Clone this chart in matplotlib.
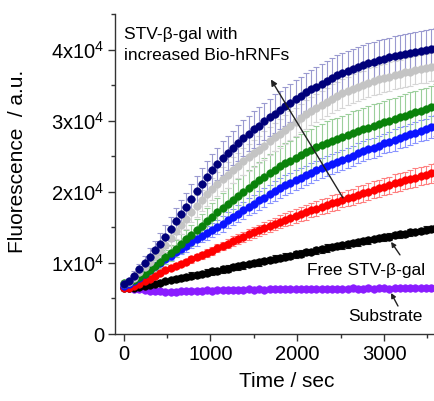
import matplotlib
matplotlib.use("Agg")
from matplotlib import pyplot as plt
from matplotlib.ticker import MultipleLocator, FixedLocator

plt.rcParams['font.family'] = ['Liberation Sans', 'DejaVu Sans']
plt.rcParams['mathtext.fontset'] = 'custom'
plt.rcParams['mathtext.rm'] = 'Liberation Sans'
plt.rcParams['mathtext.default'] = 'regular'

# time axis, one reading every 60 s
time = [0, 60, 120, 180, 240, 300, 360, 420, 480, 540,
        600, 660, 720, 780, 840, 900, 960, 1020, 1080, 1140,
        1200, 1260, 1320, 1380, 1440, 1500, 1560, 1620, 1680, 1740,
        1800, 1860, 1920, 1980, 2040, 2100, 2160, 2220, 2280, 2340,
        2400, 2460, 2520, 2580, 2640, 2700, 2760, 2820, 2880, 2940,
        3000, 3060, 3120, 3180, 3240, 3300, 3360, 3420, 3480, 3540,
        3600]

# STV-beta-gal with increasing Bio-hRNFs (highest first)
navy = [7000, 7400, 8200, 9100, 10000, 10900, 11800, 12700, 13700, 14800,
        15900, 16900, 17900, 19000, 20100, 21100, 22100, 23000, 23900, 24800,
        25500, 26200, 26900, 27600, 28200, 28800, 29300, 29900, 30500, 31000,
        31500, 32000, 32500, 33000, 33500, 34000, 34400, 34800, 35200, 35600,
        36000, 36400, 36700, 37000, 37300, 37600, 37800, 38100, 38300, 38500,
        38700, 38900, 39100, 39200, 39400, 39500, 39700, 39800, 39900, 40050,
        40200]
navy_err = [300, 400, 600, 800, 1000, 1200, 1300, 1500, 1600, 1700,
            1800, 1900, 2000, 2100, 2100, 2200, 2200, 2300, 2300, 2400,
            2400, 2400, 2500, 2500, 2500, 2600, 2600, 2600, 2600, 2700,
            2700, 2700, 2700, 2700, 2700, 2700, 2700, 2800, 2800, 2800,
            2800, 2800, 2800, 2800, 2800, 2800, 2800, 2800, 2800, 2800,
            2800, 2800, 2800, 2800, 2800, 2800, 2800, 2800, 2800, 2800,
            2800]

gray = [7000, 7300, 7950, 8700, 9450, 10200, 10950, 11700, 12550, 13500,
        14500, 15350, 16200, 17100, 18000, 18800, 19650, 20400, 21100, 21850,
        22400, 23050, 23700, 24300, 24850, 25400, 25900, 26500, 27150, 27700,
        28200, 28750, 29300, 29850, 30350, 30900, 31350, 31800, 32200, 32650,
        33100, 33500, 33850, 34150, 34500, 34800, 35000, 35350, 35550, 35800,
        36000, 36200, 36450, 36550, 36800, 36900, 37100, 37250, 37350, 37550,
        37700]
gray_err = [200, 300, 400, 500, 600, 700, 800, 900, 1000, 1100,
            1200, 1300, 1400, 1400, 1500, 1500, 1600, 1600, 1700, 1700,
            1800, 1800, 1800, 1900, 1900, 1900, 1900, 2000, 2000, 2000,
            2000, 2000, 2000, 2000, 2000, 2000, 2000, 2000, 2000, 2000,
            2000, 2000, 2000, 2000, 2000, 2000, 2000, 2000, 2000, 2000,
            2000, 2000, 2000, 2000, 2000, 2000, 2000, 2000, 2000, 2000,
            2000]

green = [7200, 7300, 7600, 8000, 8500, 9000, 9600, 10200, 10800, 11400,
         12000, 12700, 13300, 13900, 14600, 15200, 15900, 16500, 17100, 17700,
         18300, 18900, 19400, 20000, 20600, 21100, 21600, 22100, 22600, 23100,
         23600, 24000, 24400, 24800, 25200, 25600, 25900, 26300, 26600, 26900,
         27200, 27400, 27700, 28000, 28300, 28500, 28800, 29000, 29300, 29500,
         29800, 30000, 30200, 30500, 30700, 31000, 31200, 31400, 31600, 31900,
         32100]
green_err = [200, 300, 400, 500, 600, 700, 800, 900, 1000, 1100,
             1200, 1300, 1400, 1500, 1600, 1700, 1800, 1900, 2000, 2100,
             2200, 2300, 2400, 2400, 2500, 2500, 2600, 2600, 2700, 2700,
             2800, 2800, 2800, 2900, 2900, 2900, 2900, 3000, 3000, 3000,
             3000, 3000, 3000, 3000, 3000, 3000, 3000, 3000, 3000, 3000,
             3000, 3000, 3000, 3000, 3000, 3000, 3000, 3000, 3000, 3000,
             3000]

blue = [6800, 7000, 7400, 7900, 8500, 9000, 9500, 10000, 10500, 11000,
        11500, 12000, 12400, 12900, 13300, 13800, 14200, 14600, 15100, 15500,
        16000, 16500, 16900, 17400, 17900, 18300, 18800, 19200, 19700, 20100,
        20500, 20900, 21300, 21600, 22000, 22300, 22700, 23000, 23300, 23600,
        23900, 24200, 24500, 24800, 25100, 25400, 25700, 26000, 26200, 26500,
        26800, 27000, 27300, 27600, 27800, 28100, 28300, 28600, 28800, 29100,
        29300]
blue_err = [200, 200, 300, 300, 400, 400, 500, 500, 600, 600,
            700, 700, 800, 800, 900, 900, 1000, 1000, 1000, 1100,
            1100, 1100, 1200, 1200, 1200, 1300, 1300, 1300, 1300, 1400,
            1400, 1400, 1400, 1400, 1400, 1400, 1400, 1400, 1400, 1400,
            1400, 1400, 1400, 1400, 1400, 1400, 1400, 1400, 1400, 1400,
            1400, 1400, 1500, 1500, 1500, 1500, 1500, 1500, 1500, 1500,
            1500]

red = [6500, 6500, 6700, 7000, 7400, 7800, 8200, 8600, 9000, 9300,
       9600, 9900, 10200, 10500, 10800, 11100, 11400, 11700, 12100, 12400,
       12700, 13100, 13400, 13700, 14000, 14300, 14600, 14900, 15200, 15500,
       15800, 16100, 16300, 16600, 16900, 17100, 17400, 17600, 17900, 18100,
       18400, 18600, 18900, 19100, 19300, 19600, 19800, 20000, 20300, 20500,
       20700, 20900, 21200, 21400, 21600, 21800, 22000, 22200, 22400, 22600,
       22800]
red_err = [200, 200, 200, 250, 250, 250, 300, 300, 300, 350,
           350, 400, 400, 450, 450, 500, 500, 550, 600, 600,
           650, 650, 700, 700, 750, 750, 800, 800, 850, 850,
           900, 900, 950, 950, 1000, 1000, 1000, 1050, 1050, 1050,
           1100, 1100, 1100, 1150, 1150, 1150, 1200, 1200, 1200, 1200,
           1200, 1250, 1250, 1250, 1250, 1250, 1300, 1300, 1300, 1300,
           1300]

# free STV-beta-gal
black = [6500, 6500, 6500, 6600, 6700, 6900, 7000, 7200, 7400, 7600,
         7700, 7900, 8000, 8200, 8300, 8500, 8600, 8800, 8900, 9100,
         9200, 9400, 9500, 9700, 9800, 10000, 10100, 10300, 10400, 10600,
         10700, 10900, 11000, 11200, 11300, 11500, 11600, 11800, 11900, 12100,
         12200, 12400, 12500, 12600, 12800, 12900, 13100, 13200, 13300, 13500,
         13600, 13700, 13900, 14000, 14100, 14300, 14400, 14500, 14700, 14800,
         14900]
black_err = [200, 200, 250, 250, 300, 300, 300, 350, 350, 350,
             400, 450, 400, 500, 450, 400, 500, 450, 400, 450,
             500, 400, 450, 500, 400, 450, 500, 450, 400, 500,
             450, 500, 400, 450, 500, 450, 400, 500, 450, 500,
             400, 450, 500, 450, 400, 500, 450, 500, 400, 450,
             500, 450, 400, 500, 450, 500, 400, 450, 500, 450,
             500]

# substrate only
purple = [6600, 6500, 6400, 6300, 6200, 6100, 6050, 6000, 5950, 5950,
          5950, 6000, 6000, 6050, 6100, 6100, 6150, 6100, 6200, 6150,
          6200, 6250, 6200, 6250, 6300, 6250, 6300, 6250, 6300, 6350,
          6300, 6300, 6350, 6300, 6350, 6400, 6350, 6350, 6400, 6350,
          6400, 6400, 6350, 6400, 6450, 6400, 6400, 6450, 6400, 6450,
          6450, 6400, 6450, 6500, 6450, 6450, 6500, 6450, 6500, 6500,
          6500]
purple_err = [300, 350, 300, 350, 300, 350, 400, 350, 300, 350,
              400, 350, 300, 400, 350, 300, 350, 400, 350, 300,
              350, 400, 350, 300, 350, 400, 350, 300, 400, 350,
              300, 350, 400, 350, 300, 350, 400, 350, 300, 350,
              400, 350, 300, 350, 400, 350, 300, 400, 350, 300,
              350, 400, 350, 300, 350, 400, 350, 300, 350, 400,
              350]

yticks = [0, 10000, 20000, 30000, 40000]
ytick_labels = ['0', r'$1x10^4$', r'$2x10^4$', r'$3x10^4$', r'$4x10^4$']
xticks = [0, 1000, 2000, 3000]

series = [
    # values, errors, marker colour, bar colour
    (purple, purple_err, '#8a1cff', '#c79bff'),
    (black, black_err, '#000000', '#202020'),
    (red, red_err, '#ff0000', '#ff8080'),
    (blue, blue_err, '#0a14ff', '#8a94ff'),
    (green, green_err, '#0a820a', '#9ccf9c'),
    (gray, gray_err, '#c4c4c4', '#d6d6d6'),
    (navy, navy_err, '#00007a', '#9a9ad0'),
]

fig = plt.figure(figsize=(4.34, 4.01), dpi=100)
ax = fig.add_axes([0.265, 0.167, 0.79, 0.798])

for vals, errs, mc, ec in series:
    ax.errorbar(time, vals, yerr=errs, fmt='none', ecolor=ec,
                elinewidth=0.8, capsize=2, capthick=0.8, zorder=1)
for vals, errs, mc, ec in series:
    ax.plot(time, vals, linestyle='none', marker='o', ms=5.4,
            mfc=mc, mec=mc, mew=0.5, zorder=3)

ax.set_xlim(-100, 3850)
ax.set_ylim(0, 45000)

ax.xaxis.set_major_locator(FixedLocator(xticks))
ax.xaxis.set_minor_locator(MultipleLocator(500))
ax.set_yticks(yticks)
ax.set_yticklabels(ytick_labels)
ax.yaxis.set_minor_locator(MultipleLocator(5000))

for s in ['top', 'right']:
    ax.spines[s].set_visible(False)
for s in ['left', 'bottom']:
    ax.spines[s].set_color('#333333')
    ax.spines[s].set_linewidth(1.0)

ax.tick_params(which='major', direction='out', length=5, width=1,
               color='#333333', labelsize=14.5, pad=3)
ax.tick_params(which='minor', direction='out', length=3, width=1,
               color='#333333')

ax.set_xlabel('Time / sec', fontsize=15, labelpad=6)
ax.set_ylabel('Fluorescence  / a.u.', fontsize=15)
ax.yaxis.set_label_coords(-0.258, 0.54)

ax.text(0, 40630, 'STV-\u03b2-gal with\nincreased Bio-hRNFs',
        fontsize=12.5, ha='left', va='center', linespacing=1.45)
ax.annotate('', xy=(1696, 35800), xytext=(2526, 19150),
            arrowprops=dict(arrowstyle='-|>', lw=1, color='#222222',
                            mutation_scale=9, shrinkA=0, shrinkB=0))

ax.text(2790, 9000, 'Free STV-\u03b2-gal', fontsize=12.5,
        ha='center', va='center')
ax.annotate('', xy=(3080, 12960), xytext=(3183, 11130),
            arrowprops=dict(arrowstyle='-|>', lw=1, color='#222222',
                            mutation_scale=7, shrinkA=0, shrinkB=0))

ax.text(3020, 2400, 'Substrate', fontsize=12.5, ha='center', va='center')
ax.annotate('', xy=(3080, 5770), xytext=(3160, 3940),
            arrowprops=dict(arrowstyle='-|>', lw=1, color='#222222',
                            mutation_scale=7, shrinkA=0, shrinkB=0))

fig.savefig('out.png', dpi=100)
